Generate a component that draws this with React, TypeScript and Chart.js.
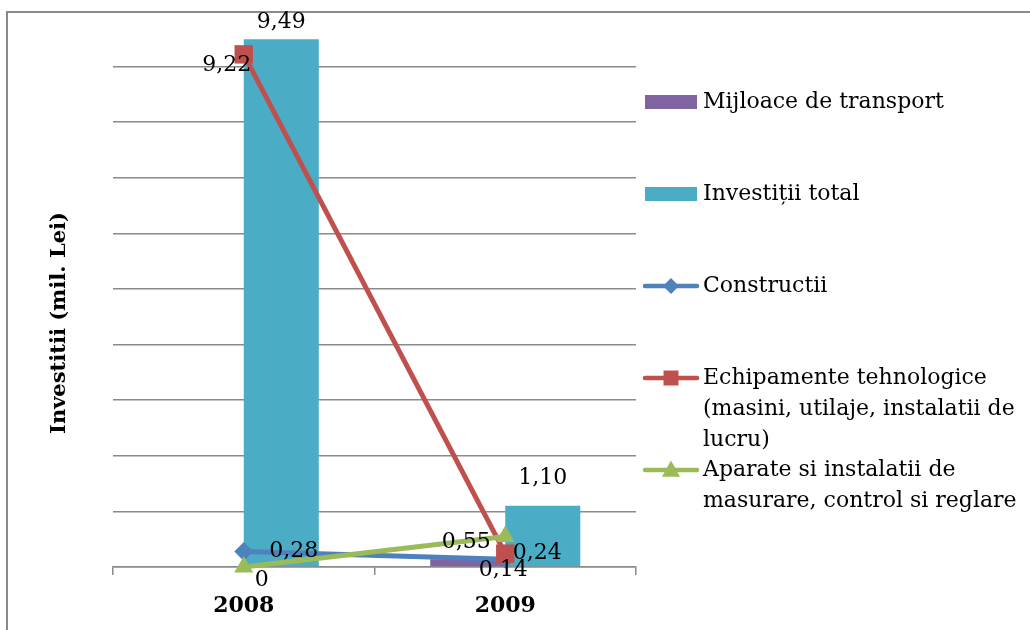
import React, { useEffect, useRef } from "react";
import { Chart, registerables } from "chart.js";

Chart.register(...registerables);

// ---- data ----
const categories = ["2008", "2009"];
const seriesNames = [
  "Mijloace de transport",
  "Investiții total",
  "Constructii",
  "Echipamente tehnologice (masini, utilaje, instalatii de lucru)",
  "Aparate si instalatii de masurare, control si reglare",
];
const mijloaceTransport = [0, 0.14];
const investitiiTotal = [9.49, 1.1];
const constructii = [0.28, 0.14];
const echipamente = [9.22, 0.24];
const aparate = [0, 0.55];
const yAxisTitle = "Investitii (mil. Lei)";
const yMin = 0;
const yMax = 10;
const yStep = 1;

// legend text split into lines (as in the reference)
const legendLines = [
  ["Mijloace de transport"],
  ["Investiții total"],
  ["Constructii"],
  ["Echipamente tehnologice", "(masini, utilaje, instalatii de", "lucru)"],
  ["Aparate si instalatii de", "masurare, control si reglare"],
];

// ---- styles ----
const COLORS = ["#8064A2", "#4BACC6", "#4F81BD", "#C0504D", "#9BBB59"];
const FONT = '"DejaVu Serif", serif';
const showLabels = [[false, false], [true, true], [true, true], [true, true], [true, true]];
// label offsets (dx, dy) relative to the marker, for line series
const lineLabelOffsets: Record<number, [number, number][]> = {
  2: [[50, 0], [-2, 11]],
  3: [[-17, 11], [32, 0]],
  4: [[18, 13], [-39, 6]],
};

const fmt = (v: number) => (v === 0 ? "0" : v.toFixed(2).replace(".", ","));

function drawMarker(ctx: CanvasRenderingContext2D, kind: string, x: number, y: number, r: number) {
  ctx.beginPath();
  if (kind === "rectRot") {
    ctx.moveTo(x - r, y);
    ctx.lineTo(x, y - r);
    ctx.lineTo(x + r, y);
    ctx.lineTo(x, y + r);
  } else if (kind === "rect") {
    ctx.rect(x - r, y - r, 2 * r, 2 * r);
  } else {
    ctx.moveTo(x, y - r);
    ctx.lineTo(x + r * 0.95, y + r * 0.7);
    ctx.lineTo(x - r * 0.95, y + r * 0.7);
  }
  ctx.closePath();
  ctx.fill();
}

const decorPlugin = {
  id: "decor",
  beforeDraw(chart: any) {
    const ctx = chart.ctx as CanvasRenderingContext2D;
    ctx.save();
    ctx.fillStyle = "#ffffff";
    ctx.fillRect(0, 0, chart.width, chart.height);
    ctx.strokeStyle = "#8a8a8a";
    ctx.lineWidth = 2;
    ctx.beginPath();
    ctx.moveTo(7, chart.height);
    ctx.lineTo(7, 12);
    ctx.lineTo(chart.width, 12);
    ctx.stroke();
    ctx.translate(60, 323);
    ctx.rotate(-Math.PI / 2);
    ctx.font = `bold 21px ${FONT}`;
    ctx.fillStyle = "#000";
    ctx.textAlign = "center";
    ctx.textBaseline = "middle";
    ctx.fillText(yAxisTitle, 0, 0);
    ctx.restore();
  },
  afterDatasetsDraw(chart: any) {
    const ctx = chart.ctx as CanvasRenderingContext2D;
    const area = chart.chartArea;
    ctx.save();
    ctx.font = `22px ${FONT}`;
    ctx.fillStyle = "#000";
    ctx.textAlign = "center";
    ctx.textBaseline = "middle";
    chart.data.datasets.forEach((ds: any, di: number) => {
      const meta = chart.getDatasetMeta(di);
      meta.data.forEach((el: any, i: number) => {
        if (!showLabels[di][i]) return;
        const v = ds.data[i] as number;
        let x = el.x;
        let y = el.y;
        if (ds.type === "bar") {
          y = Math.max(el.y - 28, area.top + 11);
        } else {
          const off = lineLabelOffsets[di][i];
          x += off[0];
          y += off[1];
        }
        ctx.fillText(fmt(v), x, y);
      });
    });
    ctx.restore();
  },
  afterDraw(chart: any) {
    const ctx = chart.ctx as CanvasRenderingContext2D;
    ctx.save();
    ctx.font = `22px ${FONT}`;
    ctx.fillStyle = "#000";
    ctx.textAlign = "left";
    ctx.textBaseline = "middle";
    const markers = ["", "", "rectRot", "rect", "triangle"];
    const markerR = [0, 0, 8, 7.5, 9.5];
    chart.data.datasets.forEach((ds: any, di: number) => {
      const yc = 102 + 92 * di;
      const color = COLORS[di];
      if (ds.type === "bar") {
        ctx.fillStyle = color;
        ctx.fillRect(645, yc - 7, 52, 14);
      } else {
        ctx.strokeStyle = color;
        ctx.lineWidth = 4.5;
        ctx.lineCap = "round";
        ctx.beginPath();
        ctx.moveTo(645, yc);
        ctx.lineTo(697, yc);
        ctx.stroke();
        ctx.fillStyle = color;
        drawMarker(ctx, markers[di], 671, yc, markerR[di]);
      }
      ctx.fillStyle = "#000";
      legendLines[di].forEach((line, li) => {
        ctx.fillText(line, 703, yc + li * 31);
      });
    });
    ctx.restore();
  },
};

export default function App() {
  const ref = useRef<HTMLCanvasElement>(null);
  useEffect(() => {
    const canvas = ref.current!;
    const lineDs = (idx: number, data: number[], style: string, r: number, order: number) => ({
      type: "line" as const,
      label: seriesNames[idx],
      data,
      borderColor: COLORS[idx],
      backgroundColor: COLORS[idx],
      borderWidth: 5,
      pointStyle: style,
      pointRadius: r,
      pointBorderWidth: 0,
      pointBackgroundColor: COLORS[idx],
      pointBorderColor: COLORS[idx],
      tension: 0,
      clip: false as const,
      order,
    });
    const chart = new Chart(canvas, {
      type: "bar",
      data: {
        labels: categories,
        datasets: [
          {
            type: "bar",
            label: seriesNames[0],
            data: mijloaceTransport,
            backgroundColor: COLORS[0],
            order: 9,
          },
          {
            type: "bar",
            label: seriesNames[1],
            data: investitiiTotal,
            backgroundColor: COLORS[1],
            order: 10,
          },
          lineDs(2, constructii, "rectRot", 9.5, 3),
          lineDs(3, echipamente, "rect", 13, 2),
          lineDs(4, aparate, "triangle", 11, 1),
        ] as any,
      },
      options: {
        responsive: false,
        animation: false,
        events: [],
        layout: { padding: { left: 113, right: 394, top: 11, bottom: 0 }, autoPadding: false },
        datasets: { bar: { categoryPercentage: 0.574, barPercentage: 1 } },
        plugins: { legend: { display: false }, tooltip: { enabled: false } },
        scales: {
          x: {
            grid: { offset: true, drawOnChartArea: false, drawTicks: true, tickLength: 8, color: "#8a8a8a", lineWidth: 1.5 },
            border: { display: true, color: "#8a8a8a", width: 1.5 },
            ticks: { font: { family: FONT, size: 22, weight: "bold" }, color: "#000", padding: 18 },
            afterFit: (s: any) => {
              s.height = 63;
            },
          },
          y: {
            min: yMin,
            max: yMax,
            ticks: { display: false, stepSize: yStep },
            border: { display: false },
            grid: {
              drawTicks: false,
              color: (c: any) => (c.tick && c.tick.value === yMax ? "rgba(0,0,0,0)" : "#8a8a8a"),
              lineWidth: 1.5,
            },
            afterFit: (s: any) => {
              s.width = 0;
            },
          },
        },
      } as any,
      plugins: [decorPlugin],
    });
    return () => chart.destroy();
  }, []);
  return (
    <div style={{ position: "absolute", left: 0, top: 0, width: 1030, height: 630, background: "#fff" }}>
      <canvas ref={ref} width={1030} height={630} style={{ display: "block", width: 1030, height: 630 }} />
    </div>
  );
}
